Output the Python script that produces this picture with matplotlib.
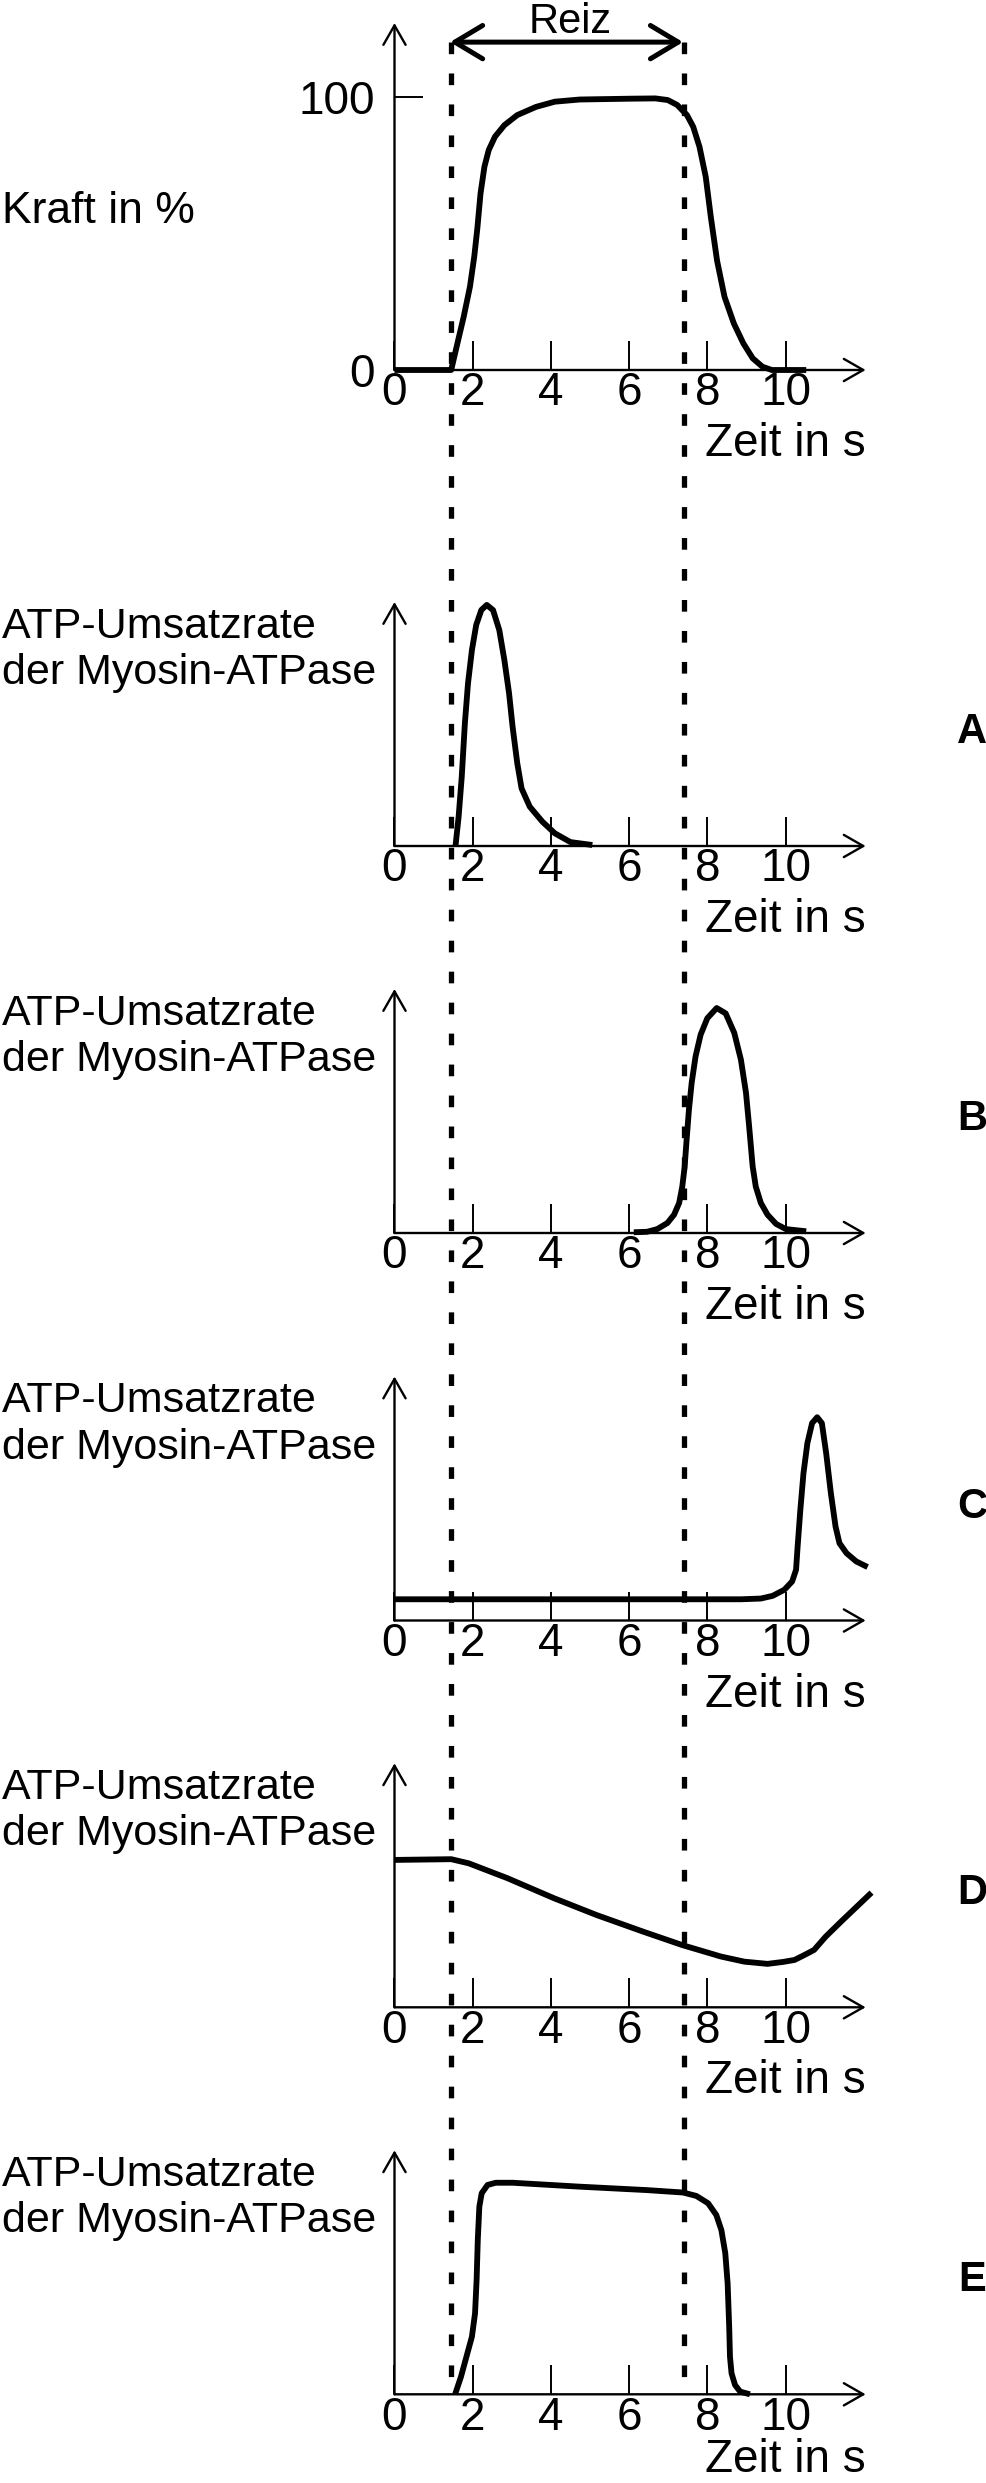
import matplotlib
matplotlib.use("Agg")
import matplotlib.pyplot as plt
import matplotlib.transforms as mtransforms
from matplotlib.lines import Line2D

plt.rcParams['font.family'] = ['Liberation Sans', 'DejaVu Sans']
plt.rcParams['lines.scale_dashes'] = False

# --- data ---
t_kraft = [0, 1.45, 1.61, 1.77, 1.93, 2.04, 2.12, 2.20, 2.30, 2.41, 2.57, 2.81, 3.14,
           3.62, 4.1, 4.74, 6.03, 6.67, 6.99, 7.23, 7.48, 7.64, 7.80, 7.96, 8.09, 8.25,
           8.44, 8.68, 8.92, 9.16, 9.41, 9.65, 10.53]
kraft = [0, 0, 9.8, 19.5, 30.5, 41.5, 52, 64.6, 74.4, 80.5, 85.4, 89.6, 93.3,
         96.3, 98.2, 99, 99.3, 99.4, 98.8, 97, 93.3, 89, 81.7, 70.7, 56, 40,
         26.8, 17, 9.8, 4.3, 1.2, 0, 0]

t_a = [1.56, 1.64, 1.72, 1.80, 1.88, 1.98, 2.09, 2.22, 2.36, 2.52, 2.68, 2.81, 2.93,
       3.02, 3.14, 3.25, 3.46, 3.78, 4.1, 4.5, 5.06]
rate_a = [0, 12, 28.4, 50.3, 66.7, 80.3, 90.6, 96.7, 98.8, 96.7, 88.5, 76.2, 62.6,
          48.9, 33.9, 23.6, 16.1, 10, 5.2, 1.6, 0.4]

t_b = [6.12, 6.46, 6.72, 6.98, 7.15, 7.28, 7.36, 7.42, 7.47, 7.53, 7.60, 7.70, 7.83,
       8.00, 8.24, 8.47, 8.69, 8.86, 8.99, 9.07, 9.16, 9.24, 9.37, 9.54, 9.76, 10.01,
       10.53]
rate_b = [0.3, 0.5, 1.6, 4.1, 7.5, 12.3, 19, 27, 38, 50.5, 61.5, 72.4, 81.3,
          88, 92.2, 90, 82, 71, 57.4, 43.7, 27.3, 19, 12.3, 7.5, 3.7, 1.6,
          0.7]

t_c = [0, 8.87, 9.37, 9.67, 9.97, 10.17, 10.27, 10.31, 10.38, 10.46, 10.56, 10.68,
       10.81, 10.93, 11.04, 11.16, 11.28, 11.38, 11.56, 11.81, 12.1]
rate_c = [8.7, 8.7, 9.0, 10.1, 12.6, 16, 20.8, 30.3, 45.4, 60.4, 72.7, 80.9,
          83.3, 80.9, 68.6, 52.2, 38.5, 31.7, 27.6, 24.2, 21.9]

t_d = [0, 1.45, 1.90, 2.89, 4.08, 5.17, 6.36, 7.36, 8.35, 8.95, 9.54, 9.94, 10.23,
       10.48, 10.73, 11.03, 11.42, 12.2]
rate_d = [60.4, 60.7, 59, 52.9, 44.7, 37.8, 31, 25.5, 20.8, 18.7, 17.8, 18.6, 19.4,
          21.4, 23.5, 29, 35.1, 47]

t_e = [1.55, 1.70, 1.84, 1.98, 2.06, 2.10, 2.13, 2.17, 2.23, 2.38, 2.59, 3.02, 4.73,
       6.44, 7.38, 7.72, 8.02, 8.23, 8.36, 8.46, 8.52, 8.56, 8.58, 8.62, 8.71, 8.84,
       9.09]
rate_e = [0, 7.2, 15.4, 23.6, 33.2, 46.9, 63.3, 76.9, 82.4, 85.8, 86.7, 86.7, 85.1,
          83.7, 82.7, 81.3, 78.3, 73.5, 67.3, 57.8, 45.5, 27.7, 15.4, 8.6, 3.8, 1.1,
          0]

panels = [('A', t_a, rate_a), ('B', t_b, rate_b), ('C', t_c, rate_c),
          ('D', t_d, rate_d), ('E', t_e, rate_e)]

x_ticks = [0, 2, 4, 6, 8, 10]
reiz_start, reiz_end = 1.45, 7.4
y_label = 'ATP-Umsatzrate\nder Myosin-ATPase'

# --- layout (pixels) ---
W, H = 987, 2483
x0_px = 394.5
unit_px = 39.1
xmax = 12.3
fs = 33

fig = plt.figure(figsize=(W / 100, H / 100), dpi=100)


def make_axes(zero_px, height_px, ytop, zeit_off=-62):
    ax = fig.add_axes([x0_px / W, 1 - zero_px / H, xmax * unit_px / W, height_px / H])
    ax.set_xlim(0, xmax)
    ax.set_ylim(0, ytop)
    for s in ax.spines.values():
        s.set_visible(False)
    ax.set_xticks(x_ticks)
    ax.tick_params(axis='x', direction='in', length=21, width=1.4, labelsize=fs, pad=1)
    ax.set_yticks([])
    arrow = dict(arrowstyle='->,head_length=14,head_width=8', lw=1.7, color='black',
                 shrinkA=0, shrinkB=0, mutation_scale=1)
    ax.annotate('', xy=(12.05, 0), xytext=(0, 0), arrowprops=arrow, annotation_clip=False)
    ax.annotate('', xy=(0, ytop), xytext=(0, 0), arrowprops=arrow, annotation_clip=False)
    ax.annotate('Zeit in s', xy=(12.05, 0), xytext=(0, zeit_off), textcoords='offset points',
                ha='right', va='baseline', fontsize=fs, annotation_clip=False)
    return ax


# top panel: force
ax_top = make_axes(370, 347, 127)
ax_top.plot(t_kraft, kraft, color='black', lw=4.2, clip_on=False,
            solid_joinstyle='round', solid_capstyle='butt')
ax_top.set_yticks([0, 100])
ax_top.set_yticklabels(['0', '100'])
ax_top.tick_params(axis='y', direction='in', length=21, width=1.4, labelsize=fs, pad=14)
ax_top.annotate('', xy=(7.38, 120), xytext=(1.42, 120),
                arrowprops=dict(arrowstyle='<->,head_length=20,head_width=12', lw=3.6,
                                color='black', shrinkA=0, shrinkB=0, mutation_scale=1),
                annotation_clip=False)
ax_top.text(4.49, 123.4, 'Reiz', ha='center', va='baseline', fontsize=30, clip_on=False)
fig.text(2 / W, 1 - 223 / H, 'Kraft in %', ha='left', va='baseline', fontsize=32)

zeros = [846, 1233, 1620.5, 2007.3, 2394.3]
for i, ((letter, t, rate), z) in enumerate(zip(panels, zeros)):
    # last panel: keep "Zeit in s" inside the canvas
    ax = make_axes(z, 244, 100, zeit_off=-56 if i == len(panels) - 1 else -62)
    ax.plot(t, rate, color='black', lw=4.2, clip_on=False,
            solid_joinstyle='round', solid_capstyle='butt')
    # va='baseline' anchors the last line of the two-line label
    fig.text(2 / W, 1 - (z - 162) / H, y_label, ha='left', va='baseline',
             fontsize=31, linespacing=1.2)
    fig.text(972 / W, 1 - (z - 103) / H, letter, ha='center', va='baseline',
             fontsize=30, fontweight='bold')

# dashed stimulus markers running through all panels
trans = mtransforms.blended_transform_factory(ax_top.transData, fig.transFigure)
for xv in (reiz_start, reiz_end):
    fig.add_artist(Line2D([xv, xv], [1 - 42 / H, 1 - 2394 / H], transform=trans,
                          color='black', lw=3.8, linestyle=(0, (8.4, 13.9)),
                          dash_capstyle='butt'))

fig.savefig('out.png', dpi=100)
